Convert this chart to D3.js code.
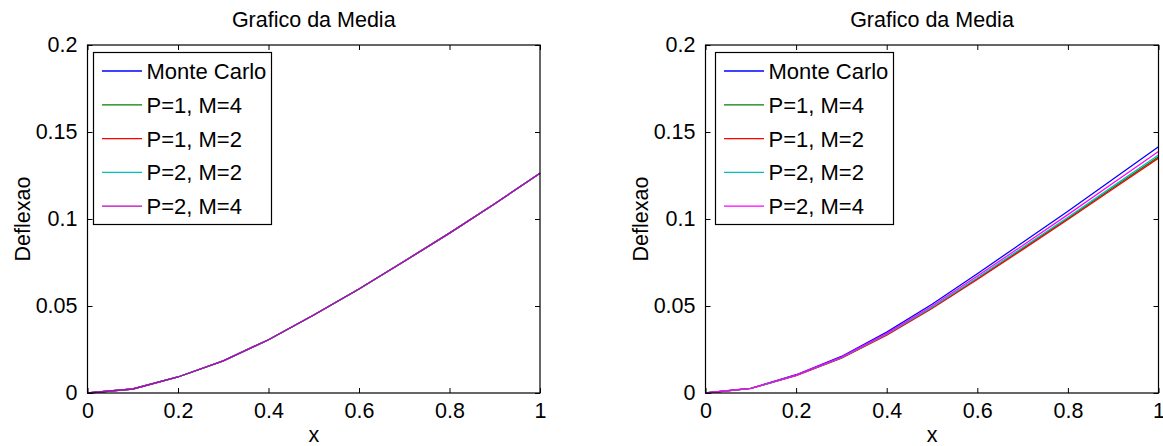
<!DOCTYPE html>
<html>
<head>
<meta charset="utf-8">
<script src="https://cdn.jsdelivr.net/npm/d3@7"></script>
<style>
  html, body { margin: 0; padding: 0; background: #fff; }
  svg { display: block; font-family: "Liberation Sans", Arial, Helvetica, sans-serif; }
</style>
</head>
<body>
<svg id="chart" width="1163" height="446"></svg>
<script>
// ---- data ----
const xValues = [0, 0.1, 0.2, 0.3, 0.4, 0.5, 0.6, 0.7, 0.8, 0.9, 1.0];
const seriesNames = ["Monte Carlo", "P=1, M=4", "P=1, M=2", "P=2, M=2", "P=2, M=4"];
const xTicks = [0, 0.2, 0.4, 0.6, 0.8, 1];
const xTickLabels = ["0", "0.2", "0.4", "0.6", "0.8", "1"];
const yTicks = [0, 0.05, 0.1, 0.15, 0.2];
const yTickLabels = ["0", "0.05", "0.1", "0.15", "0.2"];
const titleText = "Grafico da Media";
const xLabelText = "x";
const yLabelText = "Deflexao";

// left panel series (all nearly identical)
const leftMonteCarlo = [0, 0.0023, 0.0092, 0.0185, 0.0306, 0.0448, 0.0598, 0.0757, 0.0919, 0.1088, 0.1263];
const leftP1M4 = [0, 0.0023, 0.0092, 0.0185, 0.0306, 0.0448, 0.0598, 0.0757, 0.0919, 0.1088, 0.1263];
const leftP1M2 = [0, 0.0023, 0.0092, 0.0185, 0.0306, 0.0448, 0.0598, 0.0757, 0.0919, 0.1088, 0.1263];
const leftP2M2 = [0, 0.0023, 0.0092, 0.0185, 0.0306, 0.0448, 0.0598, 0.0757, 0.0919, 0.1088, 0.1263];
const leftP2M4 = [0, 0.0023, 0.0092, 0.0185, 0.0306, 0.0448, 0.0598, 0.0757, 0.0919, 0.1088, 0.1263];

// right panel series
const rightMonteCarlo = [0, 0.0027, 0.0105, 0.0210, 0.0350, 0.0510, 0.0685, 0.0865, 0.1045, 0.1230, 0.1415];
const rightP1M4 = [0, 0.0026, 0.0101, 0.0202, 0.0336, 0.0490, 0.0658, 0.0830, 0.1003, 0.1181, 0.1358];
const rightP1M2 = [0, 0.0026, 0.0100, 0.0200, 0.0333, 0.0486, 0.0653, 0.0824, 0.0997, 0.1174, 0.1350];
const rightP2M2 = [0, 0.0026, 0.0102, 0.0203, 0.0338, 0.0493, 0.0662, 0.0836, 0.1010, 0.1189, 0.1368];
const rightP2M4 = [0, 0.0026, 0.0103, 0.0206, 0.0343, 0.0500, 0.0672, 0.0848, 0.1025, 0.1207, 0.1388];

const leftColors = ["#0000ff", "#008000", "#ff0000", "#00bfbf", "#bf00bf"];
const rightColors = ["#0000ff", "#008000", "#ff0000", "#00bfbf", "#ff00ff"];

// ---- drawing ----
const svg = d3.select("#chart");
const FONT = 21.5;

function drawPanel(cfg) {
  const x = d3.scaleLinear().domain([0, 1]).range([cfg.x0, cfg.x1]);
  const y = d3.scaleLinear().domain([0, 0.2]).range([cfg.y0, cfg.y1]);
  const g = svg.append("g");

  // lines
  const line = d3.line().x((d, i) => x(xValues[i])).y(d => y(d));
  cfg.series.forEach((s, k) => {
    g.append("path").datum(s)
      .attr("fill", "none")
      .attr("stroke", cfg.colors[k])
      .attr("stroke-width", 1.3)
      .attr("d", line);
  });

  // axes (inward ticks, mirrored)
  const tl = 5;
  const bottom = d3.axisBottom(x).tickValues(xTicks).tickSize(-tl).tickFormat((d, i) => xTickLabels[i]).tickPadding(10);
  const top = d3.axisTop(x).tickValues(xTicks).tickSize(-tl).tickFormat("");
  const left = d3.axisLeft(y).tickValues(yTicks).tickSize(-tl).tickFormat((d, i) => yTickLabels[i]).tickPadding(10);
  const right = d3.axisRight(y).tickValues(yTicks).tickSize(-tl).tickFormat("");

  const styleAxis = sel => {
    sel.select(".domain").remove();
    sel.selectAll(".tick line").attr("stroke", "#000").attr("stroke-width", 1);
    sel.selectAll(".tick text").attr("fill", "#000").style("font-size", FONT + "px")
      .style("font-family", '"Liberation Sans", Arial, sans-serif');
  };
  g.append("g").attr("transform", `translate(0,${cfg.y0})`).call(bottom).call(styleAxis)
    .selectAll(".tick text").attr("dy", "0.71em");
  g.append("g").attr("transform", `translate(0,${cfg.y1})`).call(top).call(styleAxis);
  g.append("g").attr("transform", `translate(${cfg.x0},0)`).call(left).call(styleAxis);
  g.append("g").attr("transform", `translate(${cfg.x1},0)`).call(right).call(styleAxis);

  // box
  g.append("rect")
    .attr("x", cfg.x0).attr("y", cfg.y1)
    .attr("width", cfg.x1 - cfg.x0).attr("height", cfg.y0 - cfg.y1)
    .attr("fill", "none").attr("stroke", "#000").attr("stroke-width", 1.2);

  // title
  g.append("text").attr("x", (cfg.x0 + cfg.x1) / 2).attr("y", 27)
    .attr("text-anchor", "middle").style("font-size", FONT + "px").text(titleText);
  // x label
  g.append("text").attr("x", (cfg.x0 + cfg.x1) / 2).attr("y", 442)
    .attr("text-anchor", "middle").style("font-size", FONT + "px").text(xLabelText);
  // y label
  g.append("text")
    .attr("transform", `translate(${cfg.yLabelX},${(cfg.y0 + cfg.y1) / 2}) rotate(-90)`)
    .attr("text-anchor", "middle").style("font-size", FONT + "px").text(yLabelText);

  // legend
  const lg = g.append("g");
  lg.append("rect")
    .attr("x", cfg.legX).attr("y", 52.5)
    .attr("width", 178).attr("height", 172)
    .attr("fill", "#fff").attr("stroke", "#000").attr("stroke-width", 1.2);
  seriesNames.forEach((name, k) => {
    const ry = 71 + k * 33.8;
    lg.append("line")
      .attr("x1", cfg.legX + 8.5).attr("x2", cfg.legX + 48.5)
      .attr("y1", ry).attr("y2", ry)
      .attr("stroke", cfg.colors[k]).attr("stroke-width", 1.3);
    lg.append("text")
      .attr("x", cfg.legX + 53).attr("y", ry)
      .attr("dy", "0.36em")
      .style("font-size", "22px").text(name);
  });
}

drawPanel({
  x0: 87.5, x1: 540, y0: 393, y1: 45,
  series: [leftMonteCarlo, leftP1M4, leftP1M2, leftP2M2, leftP2M4],
  colors: leftColors, legX: 93.5, yLabelX: 30
});
drawPanel({
  x0: 705.5, x1: 1158.5, y0: 393, y1: 45,
  series: [rightMonteCarlo, rightP1M4, rightP1M2, rightP2M2, rightP2M4],
  colors: rightColors, legX: 715.5, yLabelX: 648
});
</script>
</body>
</html>
